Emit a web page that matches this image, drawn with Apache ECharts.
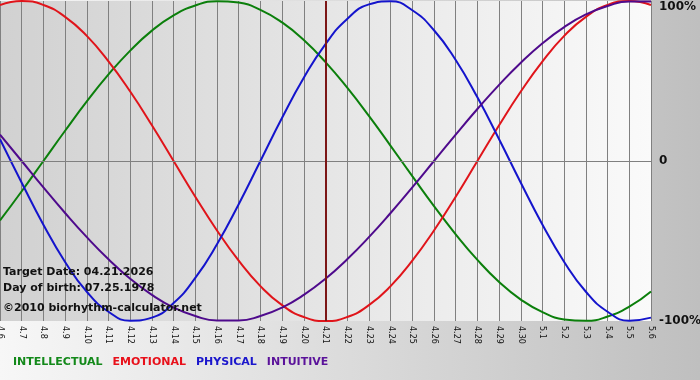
<!DOCTYPE html>
<html>
<head>
<meta charset="utf-8">
<script src="https://cdn.jsdelivr.net/npm/echarts@6/dist/echarts.min.js"></script>
<style>
html,body{margin:0;padding:0;}
#chart{width:700px;height:380px;}
</style>
</head>
<body>
<div id="chart"></div>
<script>
var categories = ['4.6','4.7','4.8','4.9','4.10','4.11','4.12','4.13','4.14','4.15','4.16','4.17','4.18','4.19','4.20','4.21','4.22','4.23','4.24','4.25','4.26','4.27','4.28','4.29','4.30','5.1','5.2','5.3','5.4','5.5','5.6'];
var intellectual = [-37.2,-18.9,0,18.9,37.2,54.1,69.0,81.5,91.0,97.2,99.9,99.0,94.5,86.6,75.6,61.8,45.8,28.2,9.5,-9.5,-28.2,-45.8,-61.8,-75.6,-86.6,-94.5,-99.0,-99.9,-97.2,-91.0,-81.5];
var emotional = [97.5,100,97.5,90.1,78.2,62.3,43.4,22.3,0,-22.3,-43.4,-62.3,-78.2,-90.1,-97.5,-100,-97.5,-90.1,-78.2,-62.3,-43.4,-22.3,0,22.3,43.4,62.3,78.2,90.1,97.5,100,97.5];
var physical = [13.6,-13.6,-39.8,-63.1,-81.7,-94.2,-99.8,-97.9,-88.8,-73.1,-52.0,-27.0,0,27.0,52.0,73.1,88.8,97.9,99.8,94.2,81.7,63.1,39.8,13.6,-13.6,-39.8,-63.1,-81.7,-94.2,-99.8,-97.9];
var intuitive = [16.5,0,-16.5,-32.5,-47.6,-61.4,-73.6,-83.7,-91.6,-96.9,-99.7,-99.7,-96.9,-91.6,-83.7,-73.6,-61.4,-47.6,-32.5,-16.5,0,16.5,32.5,47.6,61.4,73.6,83.7,91.6,96.9,99.7,99.7];
var yTicks = [-100, 0, 100];
var targetDay = '4.21';
var infoLines = ['Target Date: 04.21.2026', 'Day of birth: 07.25.1978', '\u00a92010 biorhythm-calculator.net'];

var colors = {
  INTELLECTUAL: '#0b7f0b',
  EMOTIONAL: '#e0141a',
  PHYSICAL: '#1414cc',
  INTUITIVE: '#4e0a8c'
};
var legendColors = {
  INTELLECTUAL: '#13891a',
  EMOTIONAL: '#e8101a',
  PHYSICAL: '#1a16cc',
  INTUITIVE: '#5a129a'
};
var FONT = 'DejaVu Sans';

var chart = echarts.init(document.getElementById('chart'), null, {renderer: 'canvas'});

function lineSeries(name, data) {
  return {
    name: name,
    type: 'line',
    data: data,
    smooth: 0.5,
    symbol: 'none',
    z: 3,
    lineStyle: {color: colors[name], width: 2},
    itemStyle: {color: colors[name]}
  };
}

var option = {
  animation: false,
  backgroundColor: new echarts.graphic.LinearGradient(0, 0, 1, 0, [
    {offset: 0, color: '#f7f7f7'},
    {offset: 1, color: '#bfbfbf'}
  ]),
  textStyle: {fontFamily: FONT},
  grid: {
    left: 0, right: 49, top: 1, bottom: 59,
    outerBoundsMode: 'none',
    containLabel: false,
    show: true,
    borderWidth: 0,
    backgroundColor: new echarts.graphic.LinearGradient(0, 0, 1, 0, [
      {offset: 0, color: '#d1d1d1'},
      {offset: 1, color: '#fafafa'}
    ])
  },
  legend: {
    data: ['INTELLECTUAL', 'EMOTIONAL', 'PHYSICAL', 'INTUITIVE'].map(function (n) {
      return {name: n, textStyle: {color: legendColors[n]}};
    }),
    left: 3,
    top: 352,
    itemWidth: 0,
    itemHeight: 0,
    itemGap: 5,
    icon: 'rect',
    selectedMode: false,
    textStyle: {fontFamily: FONT, fontWeight: 'bold', fontSize: 11}
  },
  xAxis: {
    type: 'category',
    data: categories,
    boundaryGap: false,
    axisLine: {show: true, lineStyle: {color: '#808080', width: 1}},
    axisTick: {show: true, length: 4, interval: 0, lineStyle: {color: '#808080'}},
    axisLabel: {
      interval: 0,
      rotate: -90,
      margin: 5,
      fontFamily: FONT,
      fontSize: 8,
      color: '#111'
    },
    splitLine: {show: true, interval: 0, lineStyle: {color: '#808080', width: 1}}
  },
  yAxis: {
    type: 'value',
    position: 'right',
    min: yTicks[0],
    max: yTicks[yTicks.length - 1],
    interval: 100,
    axisLine: {show: false},
    axisTick: {show: false},
    splitLine: {show: false},
    axisLabel: {
      margin: 8,
      fontFamily: FONT,
      fontWeight: 'bold',
      fontSize: 12,
      color: '#111',
      formatter: function (v) {
        if (v === 0) return '0';
        if (v === yTicks[yTicks.length - 1]) return '{top|' + v + '%}';
        return v + '%';
      },
      rich: {
        top: {
          fontFamily: FONT,
          fontWeight: 'bold',
          fontSize: 12,
          color: '#111',
          padding: [12, 0, 0, 0]
        }
      }
    }
  },
  graphic: infoLines.map(function (t, i) {
    return {
      type: 'text',
      left: 3,
      top: [267, 283, 303][i],
      z: 10,
      style: {
        text: t,
        fill: '#111',
        font: 'bold 11px "' + FONT + '"'
      }
    };
  }),
  series: [
    {
      name: 'markers',
      type: 'line',
      data: [],
      z: 2,
      silent: true,
      markLine: {
        silent: true,
        symbol: 'none',
        label: {show: false},
        animation: false,
        data: [
          {yAxis: 0, lineStyle: {color: '#808080', width: 1, type: 'solid'}},
          {xAxis: targetDay, lineStyle: {color: '#7c1616', width: 2, type: 'solid'}}
        ]
      }
    },
    lineSeries('INTELLECTUAL', intellectual),
    lineSeries('EMOTIONAL', emotional),
    lineSeries('PHYSICAL', physical),
    lineSeries('INTUITIVE', intuitive)
  ]
};
chart.setOption(option);
</script>
</body>
</html>
